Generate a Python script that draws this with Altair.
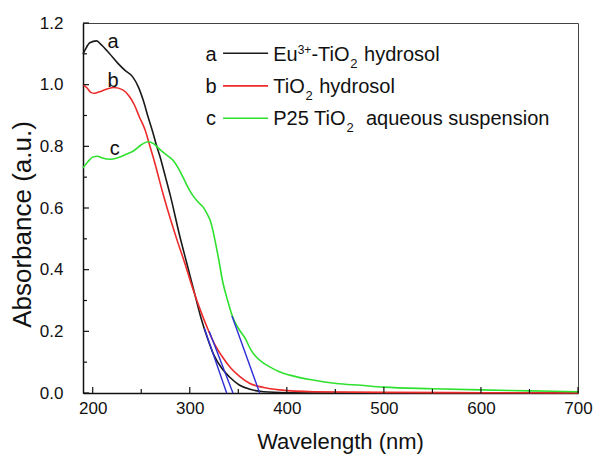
import altair as alt
import pandas as pd

# ---- data ----
wl_a = [190, 192, 197, 204, 209, 217, 226, 233, 241, 247, 252, 257, 262, 266, 269, 275, 280,
        290, 297, 304, 311, 318, 325, 333, 341, 351, 362, 376, 400, 450, 500, 600, 700]
abs_a = [1.100, 1.112, 1.136, 1.142, 1.129, 1.102, 1.069, 1.047, 1.026, 0.993, 0.950, 0.896,
         0.845, 0.800, 0.770, 0.700, 0.640, 0.505, 0.420, 0.335, 0.250, 0.180, 0.122, 0.080,
         0.052, 0.026, 0.012, 0.004, 0.001, 0.0, 0.0, 0.0, 0.0]

wl_b = [190, 194, 198, 202, 207, 214, 222, 231, 238, 243, 248, 254, 259, 263, 273, 280, 287,
        295, 303, 311, 318, 325, 333, 342, 351, 362, 376, 393, 427, 500, 600, 700]
abs_b = [1.000, 0.990, 0.975, 0.972, 0.977, 0.985, 0.991, 0.983, 0.961, 0.934, 0.896, 0.853,
         0.800, 0.757, 0.640, 0.565, 0.495, 0.420, 0.340, 0.268, 0.212, 0.162, 0.120, 0.082,
         0.055, 0.031, 0.018, 0.010, 0.004, 0.002, 0.001, 0.0]

wl_c = [190, 195, 200, 205, 210, 218, 225, 235, 242, 250, 257, 263, 269, 276, 283, 288, 293,
        298, 304, 309, 314, 318, 321, 324, 326, 330, 334, 339, 344, 350, 357, 363, 369, 376,
        383, 393, 403, 427, 451, 476, 500, 550, 600, 650, 700]
abs_c = [0.730, 0.750, 0.765, 0.768, 0.762, 0.758, 0.762, 0.775, 0.785, 0.805, 0.815, 0.808,
         0.790, 0.772, 0.754, 0.730, 0.700, 0.668, 0.637, 0.618, 0.602, 0.580, 0.560, 0.525,
         0.495, 0.430, 0.360, 0.300, 0.248, 0.210, 0.178, 0.140, 0.115, 0.097, 0.084, 0.068,
         0.058, 0.042, 0.031, 0.025, 0.019, 0.014, 0.010, 0.007, 0.004]

series_keys = ["a", "b", "c"]
series_colors = ["#1a1a1a", "#ee2b2b", "#2fe02f"]
# legend names as (text, kind) pieces: n = normal, sup = superscript, sub = subscript
series_names = [
    [("Eu", "n"), ("3+", "sup"), ("-TiO", "n"), ("2", "sub"), (" hydrosol", "n")],
    [("TiO", "n"), ("2", "sub"), (" hydrosol", "n")],
    [("P25 TiO", "n"), ("2", "sub"), ("  aqueous suspension", "n")],
]

# tangent (band-gap extrapolation) lines: start and end points
tan_wl = [[315, 338], [320, 344.5], [343.5, 372]]
tan_abs = [[0.21, 0.0], [0.20, 0.0], [0.25, 0.0]]

# curve labels
lab_wl = [221, 221, 222.6]
lab_abs = [1.118, 0.993, 0.772]

# legend rows (data units)
leg_abs_text = [1.077, 0.974, 0.869]
leg_abs_line = [1.102, 0.996, 0.891]
leg_key_wl = 322
leg_line_wl = [334.3, 380.7]
leg_text_wl = 386

x_major = [200, 300, 400, 500, 600, 700]
x_minor = [250, 350, 450, 550, 650]
y_major = [0.0, 0.2, 0.4, 0.6, 0.8, 1.0, 1.2]
y_minor = [0.1, 0.3, 0.5, 0.7, 0.9, 1.1]

# ---- layout helpers ----
W, H = 495, 370
X0, X1 = 190, 700
FONT = "Liberation Sans"
FS = 20
SIZES = {"n": FS, "sup": 12, "sub": 13}
# Arial / Liberation Sans advance widths (per 1000 em)
ADV = {" ": 278, "-": 333, "+": 584, "2": 556, "3": 556, "5": 556, "P": 667, "E": 667,
       "T": 611, "O": 778, "a": 556, "b": 556, "c": 500, "d": 556, "e": 556, "h": 556,
       "i": 222, "l": 222, "n": 556, "o": 556, "p": 556, "q": 556, "r": 333, "s": 500,
       "u": 556, "y": 500}
PX_PER_NM = W / (X1 - X0)


def adv(txt, size):
    return sum(ADV.get(ch, 556) for ch in txt) * size / 1000.0


# ---- tables ----
rows = []
for key, wls, vals in zip(series_keys, [wl_a, wl_b, wl_c], [abs_a, abs_b, abs_c]):
    for w, v in zip(wls, vals):
        rows.append({"series": key, "wl": w, "abs": v})
df = pd.DataFrame(rows)

trows = []
for i, (ws, vs) in enumerate(zip(tan_wl, tan_abs)):
    for w, v in zip(ws, vs):
        trows.append({"id": i, "wl": w, "abs": v})
dft = pd.DataFrame(trows)

dflab = pd.DataFrame({"series": series_keys, "wl": lab_wl, "abs": lab_abs})
dfleg_key = pd.DataFrame({"series": series_keys, "wl": [leg_key_wl] * 3, "abs": leg_abs_text})

seg_rows = []
for pieces, v in zip(series_names, leg_abs_text):
    off = 0.0
    for txt, kind in pieces:
        lead = len(txt) - len(txt.lstrip(" "))
        off += adv(" " * lead, SIZES[kind])
        body = txt.lstrip(" ")
        seg_rows.append({"t": body, "kind": kind, "wl": leg_text_wl + off / PX_PER_NM, "abs": v})
        off += adv(body, SIZES[kind])
        if kind == "sub":
            off += 1
dfseg = pd.DataFrame(seg_rows)

lrows = []
for key, v in zip(series_keys, leg_abs_line):
    for w in leg_line_wl:
        lrows.append({"series": key, "wl": w, "abs": v})
dfleg_line = pd.DataFrame(lrows)

xs = alt.Scale(domain=[X0, X1], nice=False, zero=False)
ys = alt.Scale(domain=[0, 1.2], nice=False, zero=False)
cs = alt.Scale(domain=series_keys, range=series_colors)

x_axis = alt.Axis(values=x_major, format="d", title="Wavelength (nm)", labelFlush=False,
                  titleX=257, titleY=48, titleBaseline="middle", titleAlign="center",
                  titleFontSize=22, labelPadding=7)
y_axis = alt.Axis(values=y_major, format=".1f", title="Absorbance (a.u.)",
                  titleX=-61, titleY=201, titleBaseline="middle", titleAlign="center",
                  titleAngle=-90, titleFontSize=26, labelPadding=20)


def X(field):
    return alt.X(field, scale=xs, axis=x_axis, title="Wavelength (nm)")


def Y(field):
    return alt.Y(field, scale=ys, axis=y_axis, title="Absorbance (a.u.)")


curves = alt.Chart(df).mark_line(strokeWidth=1.6, interpolate="monotone").encode(
    x=X("wl:Q"), y=Y("abs:Q"),
    color=alt.Color("series:N", scale=cs, legend=None),
    detail="series:N",
)

tangents = alt.Chart(dft).mark_line(strokeWidth=1.4, color="#2e2ed6").encode(
    x=X("wl:Q"), y=Y("abs:Q"), detail="id:N",
)

labels = alt.Chart(dflab).mark_text(font=FONT, fontSize=FS, baseline="alphabetic",
                                    align="center", color="#111").encode(
    x=X("wl:Q"), y=Y("abs:Q"), text="series:N",
)

leg_keys = alt.Chart(dfleg_key).mark_text(font=FONT, fontSize=FS, baseline="alphabetic",
                                          align="center", color="#111").encode(
    x=X("wl:Q"), y=Y("abs:Q"), text="series:N",
)
leg_lines = alt.Chart(dfleg_line).mark_line(strokeWidth=1.6).encode(
    x=X("wl:Q"), y=Y("abs:Q"),
    color=alt.Color("series:N", scale=cs, legend=None),
    detail="series:N",
)
seg_base = alt.Chart(dfseg)
leg_norm = seg_base.transform_filter(alt.datum.kind == "n").mark_text(
    font=FONT, fontSize=SIZES["n"], baseline="alphabetic", align="left", color="#111"
).encode(x=X("wl:Q"), y=Y("abs:Q"), text="t:N")
leg_sup = seg_base.transform_filter(alt.datum.kind == "sup").mark_text(
    font=FONT, fontSize=SIZES["sup"], baseline="alphabetic", align="left", color="#111", dy=-7
).encode(x=X("wl:Q"), y=Y("abs:Q"), text="t:N")
leg_sub = seg_base.transform_filter(alt.datum.kind == "sub").mark_text(
    font=FONT, fontSize=SIZES["sub"], baseline="alphabetic", align="left", color="#111", dy=7
).encode(x=X("wl:Q"), y=Y("abs:Q"), text="t:N")

# inward ticks
xmaj = alt.Chart(pd.DataFrame({"wl": x_major})).mark_rule(color="#111", strokeWidth=1.2).encode(
    x=X("wl:Q"), y=alt.value(H), y2=alt.value(H - 6))
xmin = alt.Chart(pd.DataFrame({"wl": x_minor})).mark_rule(color="#111", strokeWidth=1.2).encode(
    x=X("wl:Q"), y=alt.value(H), y2=alt.value(H - 4))
ymaj = alt.Chart(pd.DataFrame({"abs": y_major})).mark_rule(color="#111", strokeWidth=1.2).encode(
    y=Y("abs:Q"), x=alt.value(0), x2=alt.value(6))
ymin = alt.Chart(pd.DataFrame({"abs": y_minor})).mark_rule(color="#111", strokeWidth=1.2).encode(
    y=Y("abs:Q"), x=alt.value(0), x2=alt.value(4))

chart = alt.layer(
    curves, tangents, labels, leg_keys, leg_lines, leg_norm, leg_sup, leg_sub,
    xmaj, xmin, ymaj, ymin
).properties(
    width=W, height=H,
    autosize=alt.AutoSizeParams(type="none"),
    padding={"left": 83, "top": 23, "right": 19, "bottom": 63},
    background="white",
).configure_view(
    stroke="#444", strokeWidth=1
).configure_axis(
    grid=False, ticks=False, tickSize=0, domainColor="#111", domainWidth=1.5,
    labelFont=FONT, labelFontSize=17, labelColor="#111",
    titleFont=FONT, titleFontWeight="normal", titleColor="#111",
)

chart.save("out.html", embed_options={"renderer": "svg", "actions": False})
